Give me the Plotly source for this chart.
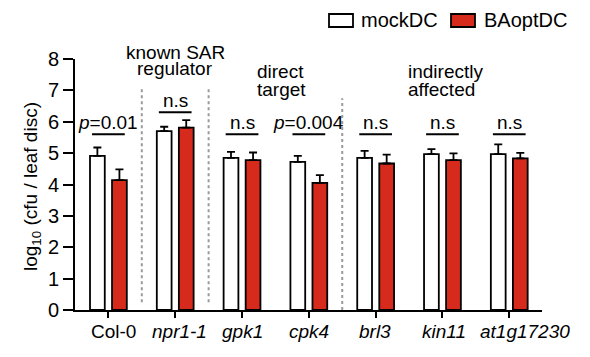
import plotly.graph_objects as go

categories = ["Col-0", "npr1-1", "gpk1", "cpk4", "brl3", "kin11", "at1g17230"]
tick_labels = ["Col-0", "<i>npr1-1</i>", "<i>gpk1</i>", "<i>cpk4</i>", "<i>brl3</i>", "<i>kin11</i>", "<i>at1g17230</i>"]
mock_vals = [4.91, 5.70, 4.85, 4.72, 4.85, 4.97, 4.97]
mock_err = [0.27, 0.14, 0.19, 0.19, 0.22, 0.16, 0.31]
ba_vals = [4.14, 5.81, 4.78, 4.05, 4.67, 4.78, 4.83]
ba_err = [0.34, 0.24, 0.24, 0.25, 0.28, 0.21, 0.18]
sig_labels = ["<i>p</i>=0.01", "n.s", "n.s", "<i>p</i>=0.004", "n.s", "n.s", "n.s"]
sig_heights = [5.6, 6.3, 5.6, 5.6, 5.6, 5.6, 5.6]
group_lines = [["known SAR", "regulator"], ["direct", "target"], ["indirectly", "affected"]]
separators = [0.5, 1.5, 3.5]

FONT = "Liberation Sans, Arial, sans-serif"
RED = "#D62A1C"
x = list(range(len(categories)))

# page body has an 8px margin: compensate so the plot lands at the reference pixels
OFF = 8
W, H = 590 - OFF, 357 - OFF
L, R, T, B = 75, 542, 59, 310  # target plot-area pixel box in the window
ml, mt = L - OFF, T - OFF
mr, mb = W - (R - OFF), H - (B - OFF)
pw, ph = R - L, B - T

def px(xp):
    return (xp - L) / pw

def py(yp):
    return (B - yp) / ph

fig = go.Figure()
fig.add_trace(go.Bar(
    x=x, y=mock_vals, name="mockDC",
    marker=dict(color="white", line=dict(color="black", width=1.8)),
    error_y=dict(type="data", array=mock_err, arrayminus=[0] * 7, symmetric=False,
                 color="black", thickness=1.8, width=4),
))
fig.add_trace(go.Bar(
    x=x, y=ba_vals, name="BAoptDC",
    marker=dict(color=RED, line=dict(color="black", width=1.8)),
    error_y=dict(type="data", array=ba_err, arrayminus=[0] * 7, symmetric=False,
                 color="black", thickness=1.8, width=4),
))

shapes = []
annotations = []
for i, (lab, h) in enumerate(zip(sig_labels, sig_heights)):
    shapes.append(dict(type="line", xref="x", yref="y", x0=i - 0.245, x1=i + 0.245,
                       y0=h, y1=h, line=dict(color="black", width=2)))
    annotations.append(dict(x=i, y=h, xref="x", yref="y", text=lab, showarrow=False,
                            yanchor="bottom", yshift=-1,
                            font=dict(size=19, color="black", family=FONT)))

sep_tops = [7.05, 7.05, 6.75]
sep_bottoms = [0.25, 0.25, 0.0]
for s, t, b in zip(separators, sep_tops, sep_bottoms):
    shapes.append(dict(type="line", xref="x", yref="y", x0=s, x1=s, y0=b, y1=t,
                       line=dict(color="#9a9a9a", width=2, dash="dot")))

# group headings (each line placed separately for tight line spacing)
heading_pos = [(1.0, "center", 52, 69), (2.2, "left", 72, 89), (4.46, "left", 72, 89)]
for lines, (hx, anchor, y1, y2) in zip(group_lines, heading_pos):
    for txt, yp in zip(lines, (y1, y2)):
        annotations.append(dict(x=hx, y=py(yp), xref="x", yref="paper", text=txt,
                                showarrow=False, xanchor=anchor, yanchor="middle",
                                font=dict(size=19, color="black", family=FONT)))

# category labels (drawn as annotations so the long last label can sit as in the original)
label_shift = [5, 4, 0, 0, -1, 2, 16]
for i, (lab, sh) in enumerate(zip(tick_labels, label_shift)):
    annotations.append(dict(x=i, y=0, xref="x", yref="y", text=lab, showarrow=False,
                            xanchor="center", yanchor="top", xshift=sh, yshift=-9,
                            font=dict(size=19, color="black", family=FONT)))

# y-axis title
annotations.append(dict(x=px(32), y=py(187), xref="paper", yref="paper",
                        text="log<sub>10</sub> (cfu / leaf disc)", textangle=-90,
                        showarrow=False, xanchor="center", yanchor="middle",
                        font=dict(size=19, color="black", family=FONT)))

# legend
leg_items = [("mockDC", "white", 329, 359), ("BAoptDC", RED, 451, 482)]
for name, col, bx, tx in leg_items:
    shapes.append(dict(type="rect", xref="paper", yref="paper",
                       x0=px(bx), x1=px(bx + 24), y0=py(27), y1=py(14),
                       fillcolor=col, line=dict(color="black", width=1.8)))
    annotations.append(dict(x=px(tx), y=py(20.5), xref="paper", yref="paper", text=name,
                            showarrow=False, xanchor="left", yanchor="middle",
                            font=dict(size=20, color="black", family=FONT)))

fig.update_layout(
    width=W, height=H,
    margin=dict(l=ml, r=mr, t=mt, b=mb, autoexpand=False),
    paper_bgcolor="white", plot_bgcolor="white",
    barmode="group", bargap=0.34, bargroupgap=0.33,
    font=dict(family=FONT, color="black"),
    shapes=shapes, annotations=annotations,
    showlegend=False,
    xaxis=dict(range=[-0.5, 6.49], tickvals=x, showticklabels=False,
               showline=True, linecolor="black", linewidth=2,
               ticks="outside", ticklen=6, tickwidth=2, tickcolor="black",
               showgrid=False, zeroline=False, automargin=False),
    yaxis=dict(range=[0, 8], tickvals=list(range(9)),
               showline=True, linecolor="black", linewidth=2,
               ticks="outside", ticklen=10, tickwidth=2, tickcolor="black",
               showgrid=False, zeroline=False, automargin=False,
               tickfont=dict(size=20, family=FONT, color="black")),
)

fig.write_html("out.html")
